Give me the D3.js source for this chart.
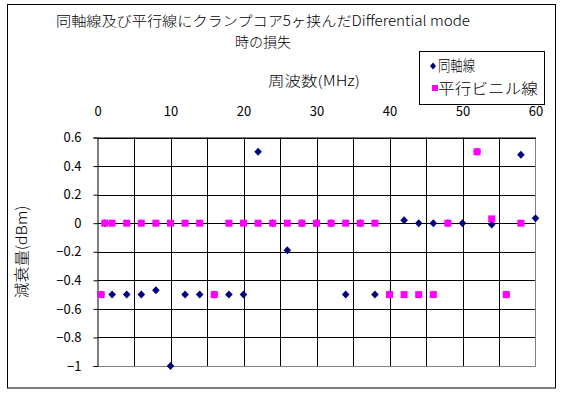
<!DOCTYPE html>
<html>
<head>
<meta charset="utf-8">
<script src="https://cdn.jsdelivr.net/npm/d3@7"></script>
<style>
  body { margin: 0; background: #fff; }
  text { font-family: "Noto Sans CJK JP", "DejaVu Sans", sans-serif; fill: #000; }
</style>
</head>
<body>
<script>
// frequency (MHz) for both series
const freqs = [0.5, 1, 2, 4, 6, 8, 10, 12, 14, 16, 18, 20, 22, 24, 26, 28, 30,
               32, 34, 36, 38, 40, 42, 44, 46, 48, 50, 52, 54, 56, 58, 60]
// 同軸線 (coax)
const coax = [-0.5, 0, -0.5, -0.5, -0.5, -0.47, -1, -0.5, -0.5, -0.5, -0.5, -0.5,
              0.5, 0, -0.19, 0, 0, 0, -0.5, 0, -0.5, -0.5, 0.02, 0, 0, 0, 0,
              0.5, -0.01, -0.5, 0.48, 0.035]
// 平行ビニル線 (parallel vinyl wire), null = no point
const parallel = [-0.5, 0, 0, 0, 0, 0, 0, 0, 0, -0.5, 0, 0, 0, 0, 0, 0, 0, 0, 0,
                  0, 0, -0.5, -0.5, -0.5, -0.5, 0, null, 0.5, 0.03, -0.5, 0, null]
const seriesNames = ['同軸線', '平行ビニル線']
const legendWidths = [37, 100]
const xTicks = [0, 10, 20, 30, 40, 50, 60]
const yTicks = [0.6, 0.4, 0.2, 0, -0.2, -0.4, -0.6, -0.8, -1]

const W = 563, H = 396
const plot = { left: 97.5, right: 535.5, top: 137.5, bottom: 366 }

const svg = d3.select('body').append('svg')
    .attr('width', W)
    .attr('height', H)

// chart frame
svg.append('rect')
    .attr('x', 7.5).attr('y', 4.5)
    .attr('width', 548).attr('height', 383.5)
    .attr('fill', '#fff').attr('stroke', '#000')

const x = d3.scaleLinear().domain([0, 60]).range([plot.left, plot.right])
const y = d3.scaleLinear().domain([-1, 0.6]).range([plot.bottom, plot.top])

const g = svg.append('g')

// vertical gridlines every 5 MHz
g.selectAll('.vgrid')
    .data(d3.range(5, 60, 5))
    .enter().append('line')
    .attr('x1', d => Math.round(x(d)) + 0.5).attr('x2', d => Math.round(x(d)) + 0.5)
    .attr('y1', plot.top).attr('y2', plot.bottom)
    .attr('stroke', '#000')

// horizontal gridlines
g.selectAll('.hgrid')
    .data(yTicks.filter(d => d > -1))
    .enter().append('line')
    .attr('x1', plot.left).attr('x2', plot.right)
    .attr('y1', d => Math.round(y(d)) + 0.5).attr('y2', d => Math.round(y(d)) + 0.5)
    .attr('stroke', '#000')

// plot border right / bottom in gray
g.append('path')
    .attr('d', `M${plot.right},${plot.top}V${plot.bottom + 0.5}H${plot.left}`)
    .attr('fill', 'none').attr('stroke', '#808080')

// y axis
const yAxis = svg.append('g')
    .attr('transform', `translate(${plot.left},0)`)
    .call(d3.axisLeft(y).tickValues(yTicks).tickSize(4).tickPadding(12)
        .tickFormat(d => d3.format('.1~f')(d).replace('-', '−')))
yAxis.select('.domain').attr('stroke', '#000')
yAxis.selectAll('.tick line').attr('stroke', '#000')
yAxis.selectAll('.tick text')
    .attr('font-size', 13)
    .attr('font-family', '"Noto Sans CJK JP", sans-serif')
    .attr('fill', '#000')

// x axis on top
const xAxis = svg.append('g')
    .attr('transform', `translate(0,${plot.top})`)
    .call(d3.axisTop(x).tickValues(xTicks).tickSize(0).tickPadding(22))
xAxis.select('.domain').attr('stroke', '#000')
xAxis.selectAll('.tick text')
    .attr('font-size', 13)
    .attr('font-family', '"Noto Sans CJK JP", sans-serif')
    .attr('fill', '#000')

// markers
const diamond = 'M0,-4L3.8,0L0,4L-3.8,0Z'
svg.append('g').selectAll('path')
    .data(freqs.map((f, i) => [f, coax[i]]).filter(d => d[1] !== null))
    .enter().append('path')
    .attr('d', diamond)
    .attr('transform', d => `translate(${x(d[0])},${y(d[1])})`)
    .attr('fill', '#000080')

svg.append('g').selectAll('rect')
    .data(freqs.map((f, i) => [f, parallel[i]]).filter(d => d[1] !== null))
    .enter().append('rect')
    .attr('x', d => x(d[0]) - 3.5)
    .attr('y', d => y(d[1]) - 3.5)
    .attr('width', 7).attr('height', 7)
    .attr('fill', '#ff00ff')

// title
const title = svg.append('g')
title.append('text')
    .attr('x', 263).attr('y', 26)
    .attr('text-anchor', 'middle')
    .attr('font-size', 14)
    .attr('font-weight', 300)
    .attr('textLength', 414).attr('lengthAdjust', 'spacingAndGlyphs')
    .text('同軸線及び平行線にクランプコア5ヶ挟んだDifferential mode')
title.append('text')
    .attr('x', 263).attr('y', 47)
    .attr('text-anchor', 'middle')
    .attr('font-size', 14)
    .attr('font-weight', 300)
    .text('時の損失')

// axis titles
svg.append('text')
    .attr('x', 314).attr('y', 86)
    .attr('text-anchor', 'middle')
    .attr('font-size', 14)
    .attr('font-weight', 300)
    .attr('textLength', 92).attr('lengthAdjust', 'spacingAndGlyphs')
    .text('周波数(MHz)')

svg.append('text')
    .attr('transform', 'translate(27,252) rotate(-90)')
    .attr('text-anchor', 'middle')
    .attr('font-size', 15)
    .attr('font-weight', 300)
    .attr('textLength', 93).attr('lengthAdjust', 'spacingAndGlyphs')
    .text('減衰量(dBm)')

// legend
const legend = svg.append('g')
legend.append('rect')
    .attr('x', 419.5).attr('y', 51.5)
    .attr('width', 125).attr('height', 53)
    .attr('fill', '#fff').attr('stroke', '#000')
legend.append('path')
    .attr('d', 'M0,-3.5L3,0L0,3.5L-3,0Z')
    .attr('transform', 'translate(433,66)')
    .attr('fill', '#000080')
legend.append('rect')
    .attr('x', 432).attr('y', 85)
    .attr('width', 6).attr('height', 6)
    .attr('fill', '#ff00ff')
legend.selectAll('.ltext')
    .data(seriesNames)
    .enter().append('text')
    .attr('x', 438)
    .attr('y', (d, i) => 71 + i * 23)
    .attr('font-size', 15)
    .attr('font-weight', 300)
    .attr('textLength', (d, i) => legendWidths[i])
    .attr('lengthAdjust', 'spacingAndGlyphs')
    .text(d => d)
</script>
</body>
</html>
